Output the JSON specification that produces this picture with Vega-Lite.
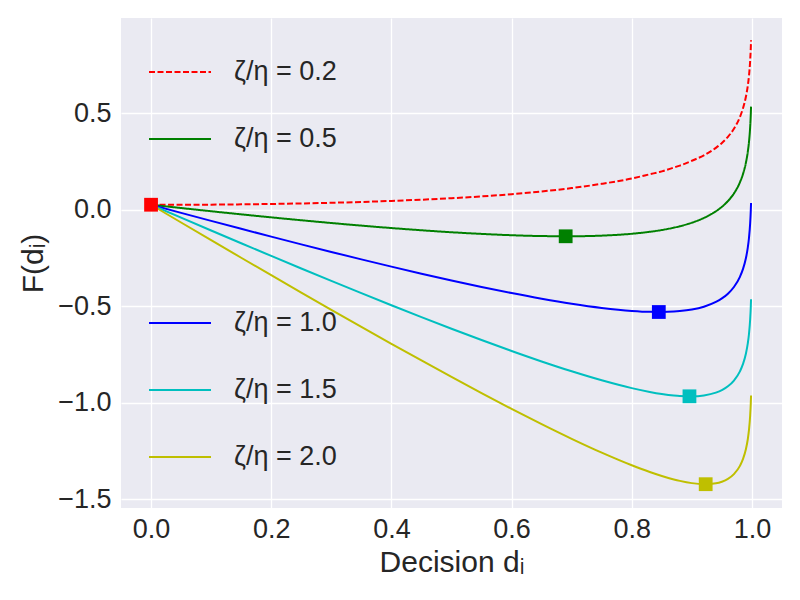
{
  "$schema": "https://vega.github.io/schema/vega-lite/v6.json",
  "width": 661,
  "height": 490,
  "autosize": {"type": "none"},
  "padding": {"left": 121, "top": 18, "right": 18, "bottom": 92},
  "background": "white",
  "config": {
    "font": "Liberation Sans",
    "view": {"fill": "#EAEAF2", "stroke": null},
    "axis": {
      "domain": false,
      "ticks": false,
      "grid": true,
      "gridColor": "white",
      "gridWidth": 1.3,
      "labelFont": "Liberation Sans",
      "titleFont": "Liberation Sans",
      "labelFontSize": 27,
      "titleFontSize": 30,
      "labelColor": "#262626",
      "titleColor": "#262626",
      "titleFontWeight": "normal"
    },
    "legend": {
      "orient": "none",
      "title": null,
      "symbolType": "stroke",
      "symbolSize": 3844,
      "symbolStrokeWidth": 2,
      "labelFont": "Liberation Sans",
      "labelFontSize": 27,
      "labelColor": "#262626",
      "labelOffset": 22,
      "rowPadding": 22,
      "padding": 0
    }
  },
  "datasets": {
    "curves": [
      {"d": 0, "r02": 0.027, "r05": 0.027, "r10": 0.027, "r15": 0.027, "r20": 0.027},
      {"d": 0.05, "r02": 0.0265, "r05": 0.010, "r10": -0.015, "r15": -0.040, "r20": -0.065},
      {"d": 0.1, "r02": 0.0275, "r05": -0.0067, "r10": -0.0567, "r15": -0.1067, "r20": -0.1567},
      {"d": 0.15, "r02": 0.029, "r05": -0.0228, "r10": -0.0978, "r15": -0.1728, "r20": -0.2478},
      {"d": 0.2, "r02": 0.031, "r05": -0.0384, "r10": -0.1384, "r15": -0.2384, "r20": -0.3384},
      {"d": 0.25, "r02": 0.0337, "r05": -0.0534, "r10": -0.1784, "r15": -0.3034, "r20": -0.4284},
      {"d": 0.3, "r02": 0.0372, "r05": -0.0677, "r10": -0.2177, "r15": -0.3677, "r20": -0.5177},
      {"d": 0.35, "r02": 0.0414, "r05": -0.0812, "r10": -0.2562, "r15": -0.4312, "r20": -0.6062},
      {"d": 0.4, "r02": 0.0467, "r05": -0.0938, "r10": -0.2938, "r15": -0.4938, "r20": -0.6938},
      {"d": 0.45, "r02": 0.0531, "r05": -0.1053, "r10": -0.3303, "r15": -0.5553, "r20": -0.7803},
      {"d": 0.5, "r02": 0.0609, "r05": -0.1156, "r10": -0.3656, "r15": -0.6156, "r20": -0.8656},
      {"d": 0.55, "r02": 0.0703, "r05": -0.1242, "r10": -0.3992, "r15": -0.6742, "r20": -0.9492},
      {"d": 0.6, "r02": 0.0818, "r05": -0.131, "r10": -0.431, "r15": -0.731, "r20": -1.031},
      {"d": 0.65, "r02": 0.0959, "r05": -0.1353, "r10": -0.4603, "r15": -0.7853, "r20": -1.1103},
      {"d": 0.7, "r02": 0.1134, "r05": -0.1364, "r10": -0.4864, "r15": -0.8364, "r20": -1.1864},
      {"d": 0.75, "r02": 0.1355, "r05": -0.1331, "r10": -0.5081, "r15": -0.8831, "r20": -1.2581},
      {"d": 0.8, "r02": 0.163, "r05": -0.1235, "r10": -0.5235, "r15": -0.9235, "r20": -1.3235},
      {"d": 0.83, "r02": 0.185, "r05": -0.1133, "r10": -0.5283, "r15": -0.9433, "r20": -1.3583},
      {"d": 0.85, "r02": 0.2, "r05": -0.1039, "r10": -0.5289, "r15": -0.9539, "r20": -1.3789},
      {"d": 0.87, "r02": 0.22, "r05": -0.0918, "r10": -0.5268, "r15": -0.9618, "r20": -1.3968},
      {"d": 0.88, "r02": 0.23, "r05": -0.0843, "r10": -0.5243, "r15": -0.9643, "r20": -1.4043},
      {"d": 0.9, "r02": 0.255, "r05": -0.0661, "r10": -0.5161, "r15": -0.9661, "r20": -1.4161},
      {"d": 0.92, "r02": 0.283, "r05": -0.0415, "r10": -0.5015, "r15": -0.9615, "r20": -1.4215},
      {"d": 0.94, "r02": 0.322, "r05": -0.0069, "r10": -0.4769, "r15": -0.9469, "r20": -1.4169},
      {"d": 0.95, "r02": 0.347, "r05": 0.0163, "r10": -0.4587, "r15": -0.9337, "r20": -1.4087},
      {"d": 0.96, "r02": 0.379, "r05": 0.0459, "r10": -0.4341, "r15": -0.9141, "r20": -1.3941},
      {"d": 0.97, "r02": 0.421, "r05": 0.0855, "r10": -0.3995, "r15": -0.8845, "r20": -1.3695},
      {"d": 0.98, "r02": 0.482, "r05": 0.1434, "r10": -0.3466, "r15": -0.8366, "r20": -1.3266},
      {"d": 0.985, "r02": 0.526, "r05": 0.1855, "r10": -0.307, "r15": -0.7995, "r20": -1.292},
      {"d": 0.99, "r02": 0.588, "r05": 0.2458, "r10": -0.2492, "r15": -0.7442, "r20": -1.2392},
      {"d": 0.993, "r02": 0.642, "r05": 0.2996, "r10": -0.1969, "r15": -0.6934, "r20": -1.1899},
      {"d": 0.995, "r02": 0.694, "r05": 0.3507, "r10": -0.1468, "r15": -0.6443, "r20": -1.1418},
      {"d": 0.997, "r02": 0.773, "r05": 0.4289, "r10": -0.0696, "r15": -0.5681, "r20": -1.0666},
      {"d": 0.998, "r02": 0.836, "r05": 0.4913, "r10": -0.0077, "r15": -0.5067, "r20": -1.0057},
      {"d": 0.9985, "r02": 0.88, "r05": 0.5357, "r10": 0.0364, "r15": -0.4629, "r20": -0.9621}
    ],
    "minima": [
      {"d": 0, "F": 0.027, "key": "r02"},
      {"d": 0.69, "F": -0.1365, "key": "r05"},
      {"d": 0.845, "F": -0.529, "key": "r10"},
      {"d": 0.896, "F": -0.966, "key": "r15"},
      {"d": 0.923, "F": -1.4216, "key": "r20"}
    ]
  },
  "encoding": {
    "x": {
      "field": "d",
      "type": "quantitative",
      "scale": {"domain": [-0.05, 1.05], "nice": false, "zero": false},
      "axis": {"values": [0, 0.2, 0.4, 0.6, 0.8, 1.0], "format": ".1f", "labelPadding": 8, "title": "Decision dᵢ", "titlePadding": 5}
    },
    "y": {
      "field": "F",
      "type": "quantitative",
      "scale": {"domain": [-1.545, 0.995], "nice": false, "zero": false},
      "axis": {"values": [-1.5, -1.0, -0.5, 0, 0.5], "format": ".1f", "labelPadding": 10, "title": "F(dᵢ)", "titlePadding": 9}
    }
  },
  "layer": [
    {
      "data": {"name": "curves"},
      "transform": [
        {"fold": ["r02", "r05"], "as": ["key", "F"]}
      ],
      "mark": {"type": "line", "strokeWidth": 2, "interpolate": "monotone"},
      "encoding": {
        "color": {
          "field": "key",
          "type": "nominal",
          "scale": {"domain": ["r02", "r05"], "range": ["#FF0000", "#008000"]},
          "legend": {"legendX": 27, "legendY": 22, "labelExpr": "'ζ/η = ' + slice(datum.label, 1, 2) + '.' + slice(datum.label, 2)"}
        },
        "strokeDash": {
          "field": "key",
          "type": "nominal",
          "scale": {"domain": ["r02", "r05"], "range": [[6, 2.5], [1, 0]]},
          "legend": {"legendX": 27, "legendY": 22, "labelExpr": "'ζ/η = ' + slice(datum.label, 1, 2) + '.' + slice(datum.label, 2)"}
        }
      }
    },
    {
      "data": {"name": "curves"},
      "transform": [
        {"fold": ["r10", "r15", "r20"], "as": ["key", "F"]}
      ],
      "mark": {"type": "line", "strokeWidth": 2, "interpolate": "monotone"},
      "encoding": {
        "color": {
          "field": "key",
          "type": "nominal",
          "scale": {"domain": ["r10", "r15", "r20"], "range": ["#0000FF", "#00BFBF", "#BFBF00"]},
          "legend": {"legendX": 27, "legendY": 273, "labelExpr": "'ζ/η = ' + slice(datum.label, 1, 2) + '.' + slice(datum.label, 2)"}
        }
      }
    },
    {
      "data": {"name": "minima"},
      "mark": {"type": "square", "size": 190, "opacity": 1, "filled": true},
      "encoding": {
        "color": {
          "field": "key",
          "type": "nominal",
          "scale": {"domain": ["r02", "r05", "r10", "r15", "r20"], "range": ["#FF0000", "#008000", "#0000FF", "#00BFBF", "#BFBF00"]},
          "legend": null
        }
      }
    }
  ],
  "resolve": {
    "scale": {"color": "independent", "strokeDash": "independent"},
    "legend": {"color": "independent", "strokeDash": "independent"}
  }
}
